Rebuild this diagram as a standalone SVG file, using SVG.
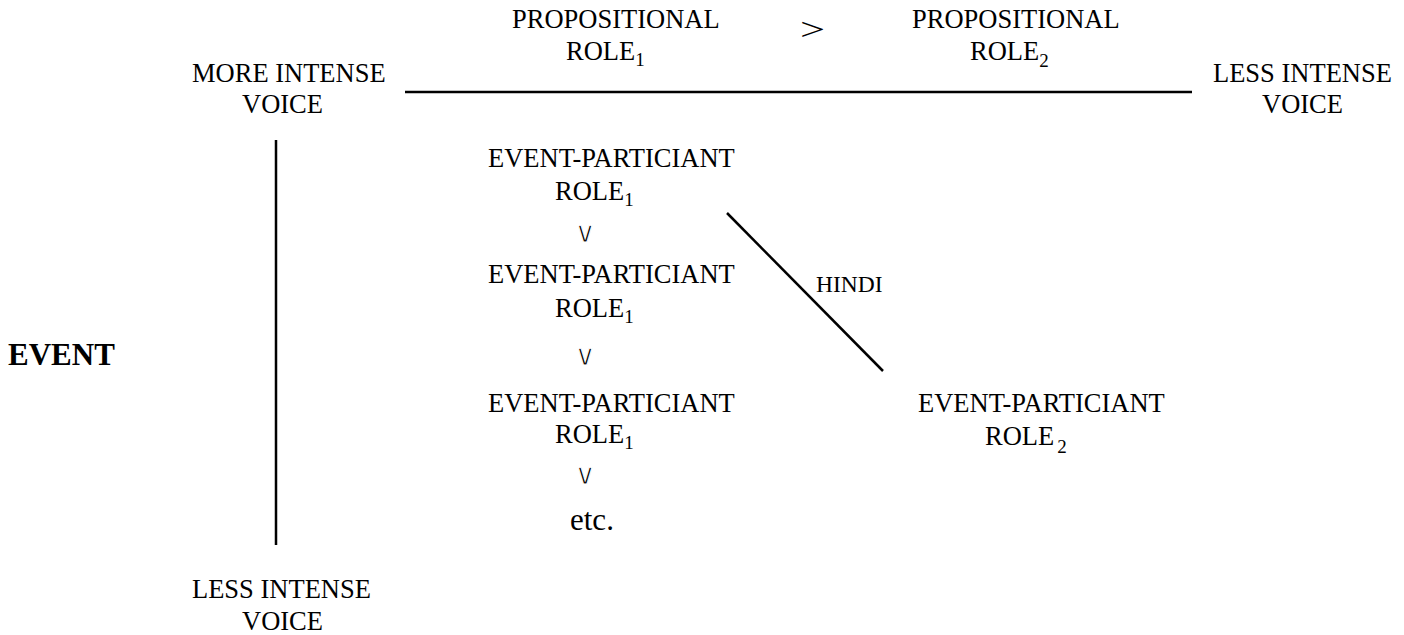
<svg xmlns="http://www.w3.org/2000/svg" width="1404" height="635" viewBox="0 0 1404 635">
<style>
text{font-family:"Liberation Serif","Times New Roman",serif;font-size:26.5px;fill:#000}
.sub{font-size:19px}
.hindi{font-size:23.5px}
.or{font-family:"DejaVu Sans",sans-serif;font-size:29px;stroke:#fff;stroke-width:1.1px}
.big{font-weight:bold;font-size:31px}
.etc{font-size:31px}
line{stroke:#000;stroke-width:2.5}
</style>
<rect width="1404" height="635" fill="#fff"/>
<g id="connectors">
<line x1="405" y1="92" x2="1192" y2="92"/>
<line x1="276" y1="140" x2="276" y2="545"/>
<line x1="727" y1="213" x2="883" y2="371" stroke-width="2.2"/>
</g>
<g id="prop1"><text x="512" y="28">PROPOSITIONAL</text><text x="566" y="60">ROLE<tspan class="sub" dy="6">1</tspan></text></g>
<g id="gt"><text x="800" y="40" style="font-size:32px" textLength="25" lengthAdjust="spacingAndGlyphs">&gt;</text></g>
<g id="prop2"><text x="912" y="28">PROPOSITIONAL</text><text x="970" y="60">ROLE<tspan class="sub" dy="7">2</tspan></text></g>
<g id="more-intense"><text x="192" y="82">MORE INTENSE</text><text x="242" y="113">VOICE</text></g>
<g id="less-intense-right"><text x="1213" y="82">LESS INTENSE</text><text x="1262" y="113">VOICE</text></g>
<g id="event"><text class="big" x="8" y="365">EVENT</text></g>
<g id="ep1"><text x="488" y="167">EVENT-PARTICIANT</text><text x="555" y="200">ROLE<tspan class="sub" dy="6">1</tspan></text></g>
<g id="or1"><text class="or" x="585" y="242" text-anchor="middle">∨</text></g>
<g id="ep2"><text x="488" y="283">EVENT-PARTICIANT</text><text x="555" y="317">ROLE<tspan class="sub" dy="6">1</tspan></text></g>
<g id="or2"><text class="or" x="585" y="365" text-anchor="middle">∨</text></g>
<g id="ep3"><text x="488" y="412">EVENT-PARTICIANT</text><text x="555" y="443">ROLE<tspan class="sub" dy="6">1</tspan></text></g>
<g id="or3"><text class="or" x="585" y="484" text-anchor="middle">∨</text></g>
<g id="etc"><text class="etc" x="570" y="530">etc.</text></g>
<g id="hindi"><text class="hindi" x="816" y="292">HINDI</text></g>
<g id="ep-role2"><text x="918" y="412">EVENT-PARTICIANT</text><text x="985" y="445">ROLE<tspan class="sub" dx="3" dy="8">2</tspan></text></g>
<g id="less-intense-bottom"><text x="192" y="598">LESS INTENSE</text><text x="242" y="630">VOICE</text></g>
</svg>
